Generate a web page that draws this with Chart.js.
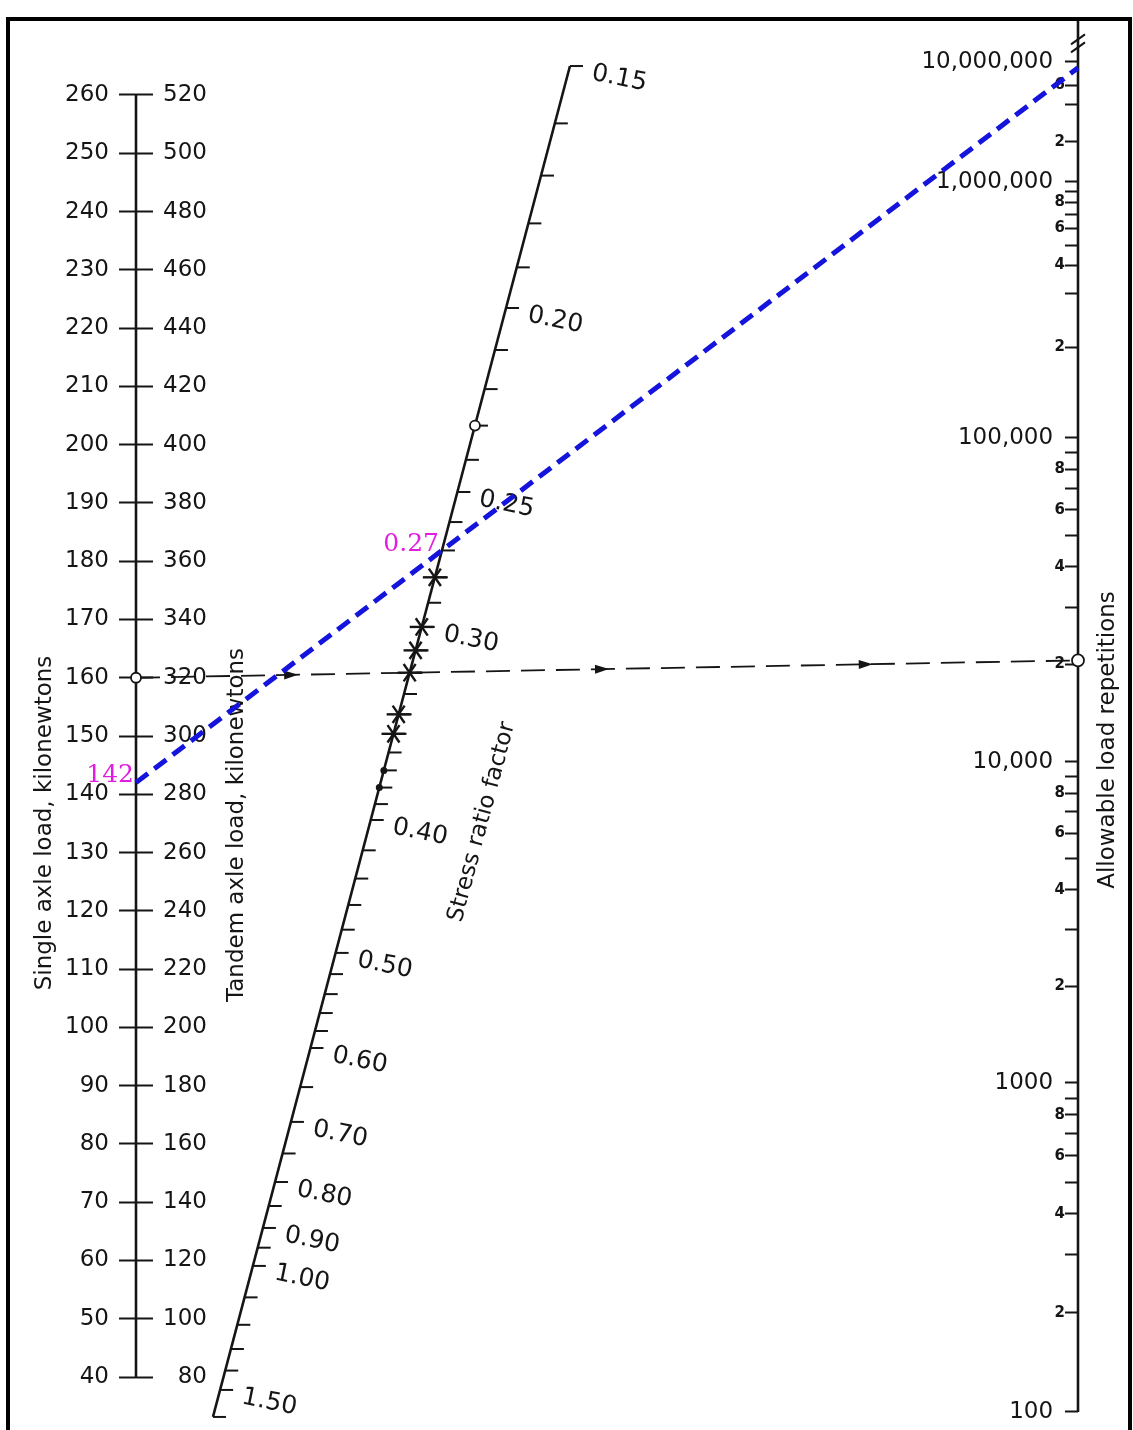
<!DOCTYPE html>
<html>
<head>
<meta charset="utf-8">
<title>Allowable load repetitions nomograph</title>
<script src="https://cdn.jsdelivr.net/npm/chart.js@4.4.1/dist/chart.umd.min.js"></script>
<style>
  html, body { margin: 0; padding: 0; background: #fff; }
  #wrap { position: relative; width: 1133px; height: 1430px; overflow: hidden; background: #fff; }
  canvas { display: block; }
</style>
</head>
<body>
<div id="wrap"><canvas id="chart" width="1133" height="1430"></canvas></div>
<script>
// values
const SINGLE_LOADS = [40, 50, 60, 70, 80, 90, 100, 110, 120, 130, 140, 150, 160, 170, 180, 190, 200, 210, 220, 230, 240, 250, 260];
const TANDEM_LOADS = [80, 100, 120, 140, 160, 180, 200, 220, 240, 260, 280, 300, 320, 340, 360, 380, 400, 420, 440, 460, 480, 500, 520];

const STRESS_RATIO_TICKS = [0.15, 0.16, 0.17, 0.18, 0.19, 0.20, 0.21, 0.22, 0.23, 0.24, 0.25, 0.26, 0.27, 0.28, 0.29,
    0.30, 0.31, 0.32, 0.33, 0.34, 0.35, 0.36, 0.37, 0.38, 0.39, 0.40, 0.42, 0.44, 0.46, 0.48, 0.50, 0.52, 0.54, 0.56, 0.58,
    0.60, 0.65, 0.70, 0.75, 0.80, 0.85, 0.90, 0.95, 1.00, 1.10, 1.20, 1.30, 1.40, 1.50, 1.60];
const STRESS_RATIO_LABELS = [0.15, 0.20, 0.25, 0.30, 0.40, 0.50, 0.60, 0.70, 0.80, 0.90, 1.00, 1.50];

const REPETITION_TICKS = [100, 200, 300, 400, 500, 600, 700, 800, 900,
    1000, 2000, 3000, 4000, 5000, 6000, 7000, 8000, 9000,
    10000, 20000, 30000, 40000, 50000, 60000, 70000, 80000, 90000,
    100000, 200000, 300000, 400000, 500000, 600000, 700000, 800000, 900000,
    1000000, 2000000, 4000000, 6000000, 10000000];
const REPETITION_MAJOR = [100, 1000, 10000, 100000, 1000000, 10000000];
const REPETITION_MAJOR_LABELS = ['100', '1000', '10,000', '100,000', '1,000,000', '10,000,000'];
const REPETITION_MINOR_LABELS = [2, 4, 6, 8];
const REPETITION_TOP_LABELS = [2, 6];

// worked examples: axle load (kN) lined up with stress ratio factor
const EXAMPLE_LOADS = [160, 142];
const EXAMPLE_RATIOS = [0.32, 0.27];

// pencil marks along the stress ratio scale
const MARK_RATIOS = [0.23, 0.28, 0.30, 0.31, 0.32, 0.34, 0.35, 0.37, 0.38];
const MARK_KINDS = ['ring', 'star', 'star', 'star', 'star', 'star', 'star', 'dot', 'dot'];

// scale geometry (not data); chart area runs from y=20 to y=1415
const SINGLE_RANGE = [33.48, 272.87];
const REPS_RANGE = [97.9, 2.49e7];
const REPS_HALF_DECADE_SPANS = [164.5, 164.5, 160.5, 160.5, 162, 162, 151, 105, 67, 53];
const STRESS_AXIS = {top: {x: 0.4607, y: 0.9670}, bottom: {x: 0.0817, y: -0.0014}};
const STRESS_CALIBRATION = [[0.15, 0], [0.20, 0.1791], [0.25, 0.3153], [0.30, 0.4152], [0.40, 0.5581], [0.50, 0.6565],
    [0.60, 0.7269], [0.70, 0.7816], [0.80, 0.8261], [0.90, 0.8601], [1.00, 0.8882], [1.50, 0.9800], [1.60, 1]];
const AXIS_SPAN_PX = 942;

const FONT = "'DejaVu Sans', sans-serif";
const INK = '#151515';

class RepetitionScale extends Chart.LogarithmicScale {
    cumulative(logValue) {
        let pos = (logValue - 2) * 2;
        if (pos <= 0) return pos * REPS_HALF_DECADE_SPANS[0];
        let total = 0;
        for (let i = 0; pos > 0; i++) {
            total += Math.min(pos, 1) * REPS_HALF_DECADE_SPANS[Math.min(i, REPS_HALF_DECADE_SPANS.length - 1)];
            pos -= 1;
        }
        return total;
    }
    decimalFor(value) {
        const lo = this.cumulative(Math.log10(this.min));
        const hi = this.cumulative(Math.log10(this.max));
        return (this.cumulative(Math.log10(value)) - lo) / (hi - lo);
    }
    getPixelForValue(value) {
        if (!value || value <= 0) value = this.min;
        return this.getPixelForDecimal(this.decimalFor(value));
    }
    getValueForPixel(pixel) {
        const target = this.getDecimalForPixel(pixel);
        let a = Math.log10(this.min) - 1, b = Math.log10(this.max) + 1;
        for (let i = 0; i < 60; i++) {
            const m = (a + b) / 2;
            if (this.decimalFor(Math.pow(10, m)) < target) a = m; else b = m;
        }
        return Math.pow(10, (a + b) / 2);
    }
}
RepetitionScale.id = 'repetitions';
RepetitionScale.defaults = Chart.LogarithmicScale.defaults;
Chart.register(RepetitionScale);

function repetitionLabel(value) {
    const i = REPETITION_MAJOR.indexOf(value);
    if (i >= 0) return REPETITION_MAJOR_LABELS[i] + ' \u2009';
    const decade = Math.pow(10, Math.floor(Math.log10(value) + 1e-9));
    const mantissa = Math.round(value / decade);
    const shown = decade >= 1e6 ? REPETITION_TOP_LABELS : REPETITION_MINOR_LABELS;
    return shown.includes(mantissa) ? String(mantissa) : '';
}

function stressFraction(v) {
    const k = STRESS_CALIBRATION;
    const u = r => Math.pow(r, -0.5);
    for (let i = 1; i < k.length; i++) {
        if (v <= k[i][0] || i === k.length - 1) {
            const [v0, t0] = k[i - 1], [v1, t1] = k[i];
            return t0 + (t1 - t0) * (u(v0) - u(v)) / (u(v0) - u(v1));
        }
    }
    return 0;
}

function stressPoint(chart, v) {
    const t = stressFraction(v);
    const {x, nomo} = chart.scales;
    const a = STRESS_AXIS.top, b = STRESS_AXIS.bottom;
    return {x: x.getPixelForValue(a.x + (b.x - a.x) * t), y: nomo.getPixelForValue(a.y + (b.y - a.y) * t)};
}

function alignment(chart, load, ratio) {
    const {x, single} = chart.scales;
    const a = {x: x.getPixelForValue(0), y: single.getPixelForValue(load)};
    const b = stressPoint(chart, ratio);
    const xr = x.getPixelForValue(1);
    const c = {x: xr, y: a.y + (b.y - a.y) * (xr - a.x) / (b.x - a.x)};
    return [a, b, c];
}

function arrowHead(ctx, x, y, angle) {
    ctx.save();
    ctx.translate(x, y);
    ctx.rotate(angle);
    ctx.beginPath();
    ctx.moveTo(2, 0);
    ctx.lineTo(-12, -4.5);
    ctx.lineTo(-12, 4.5);
    ctx.closePath();
    ctx.fill();
    ctx.restore();
}

function ring(ctx, p, r) {
    ctx.beginPath();
    ctx.arc(p.x, p.y, r, 0, Math.PI * 2);
    ctx.fillStyle = '#fff';
    ctx.fill();
    ctx.lineWidth = 1.8;
    ctx.strokeStyle = INK;
    ctx.stroke();
}

function drawStressAxis(chart, ctx) {
    const first = stressPoint(chart, STRESS_RATIO_TICKS[0]);
    const last = stressPoint(chart, STRESS_RATIO_TICKS[STRESS_RATIO_TICKS.length - 1]);
    ctx.strokeStyle = INK;
    ctx.lineWidth = 2.6;
    ctx.beginPath();
    ctx.moveTo(first.x, first.y);
    ctx.lineTo(last.x, last.y);
    ctx.stroke();

    ctx.lineWidth = 2;
    STRESS_RATIO_TICKS.forEach(v => {
        const p = stressPoint(chart, v);
        ctx.beginPath();
        ctx.moveTo(p.x, p.y);
        ctx.lineTo(p.x + 13, p.y);
        ctx.stroke();
    });

    ctx.fillStyle = INK;
    ctx.font = '25px ' + FONT;
    ctx.textAlign = 'left';
    ctx.textBaseline = 'middle';
    STRESS_RATIO_LABELS.forEach(v => {
        const p = stressPoint(chart, v);
        ctx.save();
        ctx.translate(p.x + 22, p.y + 7);
        ctx.rotate(0.2);
        ctx.fillText(v.toFixed(2), 0, 0);
        ctx.restore();
    });

    MARK_RATIOS.forEach((v, i) => {
        const p = stressPoint(chart, v);
        const kind = MARK_KINDS[i];
        if (kind === 'ring') {
            ring(ctx, p, 5);
        } else if (kind === 'dot') {
            ctx.beginPath();
            ctx.arc(p.x, p.y, 3.5, 0, Math.PI * 2);
            ctx.fillStyle = INK;
            ctx.fill();
        } else {
            ctx.lineWidth = 2.4;
            ctx.strokeStyle = INK;
            [0, Math.PI / 3, 2 * Math.PI / 3].forEach(a => {
                ctx.beginPath();
                ctx.moveTo(p.x - 12 * Math.cos(a), p.y - 10 * Math.sin(a));
                ctx.lineTo(p.x + 12 * Math.cos(a), p.y + 10 * Math.sin(a));
                ctx.stroke();
            });
        }
    });
}

function drawExamples(chart, ctx) {
    // black worked example with arrows
    const [a, b, c] = alignment(chart, EXAMPLE_LOADS[0], EXAMPLE_RATIOS[0]);
    ctx.save();
    ctx.strokeStyle = INK;
    ctx.lineWidth = 1.8;
    ctx.setLineDash([24, 11]);
    ctx.beginPath();
    ctx.moveTo(a.x, a.y);
    ctx.lineTo(c.x, c.y);
    ctx.stroke();
    ctx.restore();
    const angle = Math.atan2(c.y - a.y, c.x - a.x);
    ctx.fillStyle = INK;
    [0.17, 0.5, 0.78].forEach(f => arrowHead(ctx, a.x + (c.x - a.x) * f, a.y + (c.y - a.y) * f, angle));
    ring(ctx, a, 5);
    ring(ctx, c, 6);

    // blue example
    const [p, q, r] = alignment(chart, EXAMPLE_LOADS[1], EXAMPLE_RATIOS[1]);
    ctx.save();
    ctx.strokeStyle = '#1414dc';
    ctx.lineWidth = 5;
    ctx.setLineDash([15, 8]);
    ctx.beginPath();
    ctx.moveTo(p.x, p.y);
    ctx.lineTo(r.x, r.y);
    ctx.stroke();
    ctx.restore();

    ctx.fillStyle = '#e01ee0';
    ctx.font = "25px 'DejaVu Serif', serif";
    ctx.textAlign = 'right';
    ctx.textBaseline = 'middle';
    ctx.fillText(String(EXAMPLE_LOADS[1]), p.x - 2, p.y - 7);
    ctx.fillText(EXAMPLE_RATIOS[1].toFixed(2), q.x - 3, q.y - 6);
}

function drawTitles(ctx) {
    const titles = [
        {text: 'Single axle load, kilonewtons', x: 45, y: 823, angle: -Math.PI / 2},
        {text: 'Tandem axle load, kilonewtons', x: 237, y: 825, angle: -Math.PI / 2},
        {text: 'Stress ratio factor', x: 482, y: 822, angle: -1.31},
        {text: 'Allowable load repetitions', x: 1108, y: 740, angle: -Math.PI / 2}
    ];
    ctx.fillStyle = INK;
    ctx.font = '23px ' + FONT;
    ctx.textAlign = 'center';
    ctx.textBaseline = 'middle';
    titles.forEach(t => {
        ctx.save();
        ctx.translate(t.x, t.y);
        ctx.rotate(t.angle);
        ctx.fillText(t.text, 0, 0);
        ctx.restore();
    });
}

function drawBreak(chart, ctx) {
    const {x, reps} = chart.scales;
    const xr = x.getPixelForValue(1);
    const y = reps.getPixelForValue(1.5e7);
    ctx.strokeStyle = INK;
    ctx.lineWidth = 2;
    [-4, 4].forEach(d => {
        ctx.beginPath();
        ctx.moveTo(xr - 7, y + d + 5);
        ctx.lineTo(xr + 7, y + d - 5);
        ctx.stroke();
    });
}

const nomogramPlugin = {
    id: 'nomogram',
    afterDatasetsDraw(chart) {
        const ctx = chart.ctx;
        ctx.save();
        drawStressAxis(chart, ctx);
        drawBreak(chart, ctx);
        drawTitles(ctx);
        drawExamples(chart, ctx);
        ctx.restore();
    },
    afterDraw(chart) {
        const ctx = chart.ctx;
        ctx.save();
        ctx.strokeStyle = '#000';
        ctx.lineWidth = 4;
        ctx.strokeRect(8, 19, 1122, 1440);
        ctx.restore();
    }
};

const loadTicks = values => axis => { axis.ticks = values.map(v => ({value: v})); };

// tick marks only (labels are drawn by the matching *Labels axis)
const tickAxis = (type, offsetPx, range, values) => ({
    type, axis: 'y', position: {x: offsetPx / AXIS_SPAN_PX},
    min: range[0], max: range[1],
    afterBuildTicks: loadTicks(values),
    border: {display: false},
    grid: {drawOnChartArea: false, tickLength: type === 'linear' ? 17 : 13, tickWidth: 2, tickColor: INK},
    ticks: {display: false, autoSkip: false}
});

// labels only, right-aligned at the axis position
const labelAxis = (type, offsetPx, range, values, extra) => Object.assign({
    type, axis: 'y', position: {x: offsetPx / AXIS_SPAN_PX},
    min: range[0], max: range[1],
    afterBuildTicks: loadTicks(values),
    border: {display: false},
    grid: {display: false, drawTicks: false}
}, extra);

new Chart(document.getElementById('chart'), {
    type: 'scatter',
    data: {
        datasets: [
            {
                label: 'Single axle load',
                data: [{x: 0, y: SINGLE_LOADS[0]}, {x: 0, y: SINGLE_LOADS[SINGLE_LOADS.length - 1]}],
                yAxisID: 'single', showLine: true, pointRadius: 0, borderColor: INK, borderWidth: 2.6, clip: false
            },
            {
                label: 'Allowable load repetitions',
                data: [{x: 1, y: REPETITION_TICKS[0]}, {x: 1, y: REPS_RANGE[1]}],
                yAxisID: 'reps', showLine: true, pointRadius: 0, borderColor: INK, borderWidth: 2.6, clip: false
            }
        ]
    },
    options: {
        responsive: false,
        animation: false,
        devicePixelRatio: 1,
        events: [],
        layout: {padding: {left: 136, right: 55, top: 20, bottom: 15}},
        plugins: {legend: {display: false}, tooltip: {enabled: false}},
        scales: {
            x: {type: 'linear', min: 0, max: 1, display: false},
            nomo: {type: 'linear', axis: 'y', min: 0, max: 1, display: false},
            single: tickAxis('linear', 0, SINGLE_RANGE, SINGLE_LOADS),
            singleRight: tickAxis('linear', 17, SINGLE_RANGE, SINGLE_LOADS),
            singleLabels: labelAxis('linear', -27, SINGLE_RANGE, SINGLE_LOADS, {
                ticks: {autoSkip: false, padding: 0, color: INK, font: {family: FONT, size: 23}}
            }),
            tandem: labelAxis('linear', 71, SINGLE_RANGE.map(v => v * 2), TANDEM_LOADS, {
                ticks: {autoSkip: false, padding: 0, color: INK, font: {family: FONT, size: 23}}
            }),
            reps: tickAxis('repetitions', AXIS_SPAN_PX, REPS_RANGE, REPETITION_TICKS),
            repsLabels: labelAxis('repetitions', AXIS_SPAN_PX - 13, REPS_RANGE, REPETITION_TICKS, {
                ticks: {
                    autoSkip: false, padding: 0, color: INK,
                    callback: value => repetitionLabel(value),
                    font: ctx => REPETITION_MAJOR.includes(ctx.tick && ctx.tick.value)
                        ? {family: FONT, size: 23}
                        : {family: FONT, size: 15, weight: 'bold'}
                }
            })
        }
    },
    plugins: [nomogramPlugin]
});
</script>
</body>
</html>
